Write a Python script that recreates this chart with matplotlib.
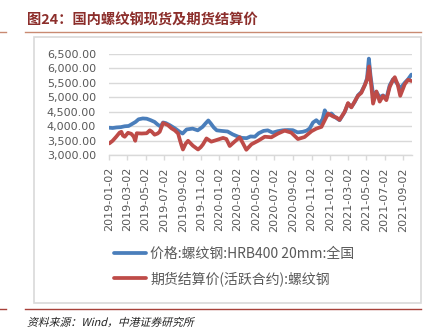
import matplotlib
matplotlib.use('Agg')
import matplotlib.pyplot as plt
from matplotlib.lines import Line2D
from matplotlib.patches import Rectangle, PathPatch
from matplotlib.textpath import TextPath
from matplotlib.font_manager import FontProperties
from matplotlib.transforms import Affine2D, IdentityTransform
import numpy as np

plt.rcParams['font.family'] = ['Noto Sans CJK SC', 'DejaVu Sans']

title = '图24：国内螺纹钢现货及期货结算价'
source = '资料来源：Wind，中港证券研究所'
label_spot = '价格:螺纹钢:HRB400 20mm:全国'
label_fut = '期货结算价(活跃合约):螺纹钢'

spot_dates = ['2019-01-02', '2019-01-13', '2019-01-26', '2019-02-09', '2019-02-22',
              '2019-03-07', '2019-03-17', '2019-03-30', '2019-04-09', '2019-04-23',
              '2019-05-06', '2019-05-19', '2019-06-01', '2019-06-11', '2019-06-21',
              '2019-06-29', '2019-07-08', '2019-07-21', '2019-08-07', '2019-08-23',
              '2019-09-02', '2019-09-15', '2019-10-05', '2019-10-22', '2019-11-07',
              '2019-11-17', '2019-11-26', '2019-12-04', '2019-12-14', '2019-12-24',
              '2020-01-09', '2020-01-29', '2020-02-15', '2020-03-02', '2020-03-16',
              '2020-04-01', '2020-04-14', '2020-04-28', '2020-05-11', '2020-05-27',
              '2020-06-10', '2020-06-26', '2020-07-13', '2020-07-29', '2020-08-15',
              '2020-09-01', '2020-09-17', '2020-10-04', '2020-10-17', '2020-10-27',
              '2020-11-07', '2020-11-18', '2020-11-29', '2020-12-09', '2020-12-16',
              '2020-12-24', '2021-01-07', '2021-01-18', '2021-02-03', '2021-02-20',
              '2021-03-03', '2021-03-14', '2021-03-25', '2021-04-05', '2021-04-16',
              '2021-04-27', '2021-05-05', '2021-05-11', '2021-05-17', '2021-05-25',
              '2021-06-05', '2021-06-16', '2021-06-27', '2021-07-08', '2021-07-19',
              '2021-07-30', '2021-08-10', '2021-08-23', '2021-09-07', '2021-09-18',
              '2021-09-29']
spot_values = [3950, 3940, 3960, 3970, 4000,
               4010, 4070, 4150, 4240, 4270,
               4260, 4210, 4150, 4060, 3990,
               4130, 4110, 4040, 3930, 3810,
               3750, 3890, 3920, 3860, 3980,
               4100, 4200, 4100, 3960, 3860,
               3840, 3820, 3720, 3650, 3600,
               3590, 3650, 3640, 3760, 3840,
               3860, 3780, 3830, 3860, 3870,
               3865, 3790, 3810, 3850, 3925,
               4130, 4210, 4095, 4250, 4550,
               4380, 4440, 4320, 4210, 4495,
               4780, 4665, 4835, 5065, 5180,
               5410, 5650, 6330, 5700, 5100,
               5180, 5000, 5065, 4950, 5410,
               5620, 5520, 5300, 5500, 5620,
               5780]

fut_dates = ['2019-01-02', '2019-01-13', '2019-01-25', '2019-02-05', '2019-02-11',
             '2019-02-16', '2019-02-22', '2019-03-05', '2019-03-16', '2019-03-24',
             '2019-03-29', '2019-04-03', '2019-04-19', '2019-05-06', '2019-05-16',
             '2019-05-22', '2019-06-01', '2019-06-11', '2019-06-18', '2019-06-29',
             '2019-07-15', '2019-07-27', '2019-08-07', '2019-08-18', '2019-08-23',
             '2019-08-29', '2019-09-03', '2019-09-12', '2019-09-20', '2019-10-06',
             '2019-10-23', '2019-11-01', '2019-11-08', '2019-11-20', '2019-12-06',
             '2019-12-23', '2020-01-14', '2020-01-25', '2020-02-05', '2020-02-21',
             '2020-03-09', '2020-03-20', '2020-03-31', '2020-04-17', '2020-05-09',
             '2020-05-31', '2020-06-22', '2020-07-14', '2020-08-05', '2020-08-27',
             '2020-09-18', '2020-10-10', '2020-11-02', '2020-11-18', '2020-12-05',
             '2020-12-16', '2020-12-27', '2021-01-12', '2021-01-24', '2021-02-03',
             '2021-02-20', '2021-03-03', '2021-03-14', '2021-03-25', '2021-04-05',
             '2021-04-16', '2021-04-27', '2021-05-05', '2021-05-12', '2021-05-19',
             '2021-05-25', '2021-06-05', '2021-06-16', '2021-06-27', '2021-07-08',
             '2021-07-19', '2021-07-30', '2021-08-05', '2021-08-15', '2021-08-23',
             '2021-09-07', '2021-09-18', '2021-09-29']
fut_values = [3410, 3500, 3640, 3780, 3810,
              3680, 3640, 3775, 3740, 3640,
              3500, 3760, 3750, 3760, 3860,
              3820, 3710, 3750, 3810, 4110,
              4040, 3930, 3860, 3750, 3560,
              3350, 3200, 3400, 3500, 3330,
              3200, 3280, 3370, 3580, 3470,
              3525, 3600, 3560, 3320, 3470,
              3620, 3410, 3190, 3380, 3500,
              3640, 3620, 3750, 3850, 3780,
              3560, 3630, 3830, 3920, 3980,
              4210, 4440, 4340, 4300, 4220,
              4500, 4800, 4650, 4850, 5050,
              5150, 5400, 5600, 6060, 5400,
              4780, 5200, 4850, 5050, 4900,
              5350, 5600, 5690, 5420, 5050,
              5450, 5600, 5560]

tick_dates = ['2019-01-02', '2019-03-02', '2019-05-02', '2019-07-02', '2019-09-02',
              '2019-11-02', '2020-01-02', '2020-03-02', '2020-05-02', '2020-07-02',
              '2020-09-02', '2020-11-02', '2021-01-02', '2021-03-02', '2021-05-02',
              '2021-07-02', '2021-09-02']

blue = '#4A7EBB'
red = '#BE4B48'
grey_txt = '#595959'
grid_c = '#D9D9D9'

W, H = 439, 335
fig = plt.figure(figsize=(W / 100, H / 100), dpi=100)

# frame, header and footer lines
fig.patches.append(Rectangle((34 / W, 1 - 303 / H), (421 - 34) / W, (303 - 37) / H,
                             transform=fig.transFigure, fill=False, edgecolor='#D9D9D9', lw=1.2))
fig.lines.append(Line2D([25 / W, 421 / W], [1 - 31.5 / H] * 2, transform=fig.transFigure,
                        color='#C98A72', lw=1.0))
fig.lines.append(Line2D([0, 6 / W], [1 - 31.5 / H] * 2, transform=fig.transFigure,
                        color='#C98A72', lw=1.0))
fig.lines.append(Line2D([25 / W, 421 / W], [1 - 309 / H] * 2, transform=fig.transFigure,
                        color='#A8413A', lw=1.0))
fig.lines.append(Line2D([0, 6 / W], [1 - 309 / H] * 2, transform=fig.transFigure,
                        color='#A8413A', lw=1.0))

fig.text(27 / W, 1 - 19.5 / H, title, fontsize=10.3, fontweight='bold', color='#8C2E2B',
         ha='left', va='center')

# source line, slanted like the italic in the original
fp = FontProperties(family=['Noto Sans CJK SC', 'DejaVu Sans'])
tp = TextPath((0, 0), source, size=7.8, prop=fp)
tr = Affine2D().skew_deg(14, 0).scale(100 / 72).translate(27, H - 326) + IdentityTransform()
fig.patches.append(PathPatch(tp, transform=tr, facecolor='#222222', edgecolor='none'))

ax = fig.add_axes([109.3 / W, 1 - 155.3 / H, (411.7 - 109.3) / W, (155.3 - 53.7) / H])

sd = [np.datetime64(d) for d in spot_dates]
fd = [np.datetime64(d) for d in fut_dates]
ax.plot(sd, spot_values, color=blue, lw=2.7, solid_joinstyle='round', solid_capstyle='round',
        label=label_spot)
ax.plot(fd, fut_values, color=red, lw=2.7, solid_joinstyle='round', solid_capstyle='round',
        label=label_fut)

ax.set_ylim(3000, 6500)
ax.set_yticks(np.arange(3000, 6501, 500))
ax.set_yticklabels(['{:,.2f}'.format(v) for v in np.arange(3000, 6501, 500)])
ax.set_xlim(np.datetime64('2019-01-02'), np.datetime64('2021-09-30'))
ax.set_xticks([np.datetime64(d) for d in tick_dates])
ax.set_xticklabels(tick_dates, rotation=90)

for lab in ax.get_yticklabels() + ax.get_xticklabels():
    lab.set_family('DejaVu Sans')
    lab.set_fontsize(8)
    lab.set_color(grey_txt)

ax.grid(axis='y', color=grid_c, lw=1.0)
ax.set_axisbelow(True)
for s in ['top', 'right', 'left']:
    ax.spines[s].set_visible(False)
ax.spines['bottom'].set_color(grid_c)
ax.spines['bottom'].set_linewidth(1.0)
ax.tick_params(axis='y', length=0, pad=9.5)
ax.tick_params(axis='x', length=3.5, width=1.0, color=grid_c, pad=5)

fig.legend(loc='upper left', bbox_to_anchor=(114 / W, 1 - 247 / H), frameon=False,
           fontsize=10, labelcolor=grey_txt, handlelength=2.3, handletextpad=0.3,
           labelspacing=0.75, borderpad=0, borderaxespad=0)

fig.savefig('out.png', dpi=100)
